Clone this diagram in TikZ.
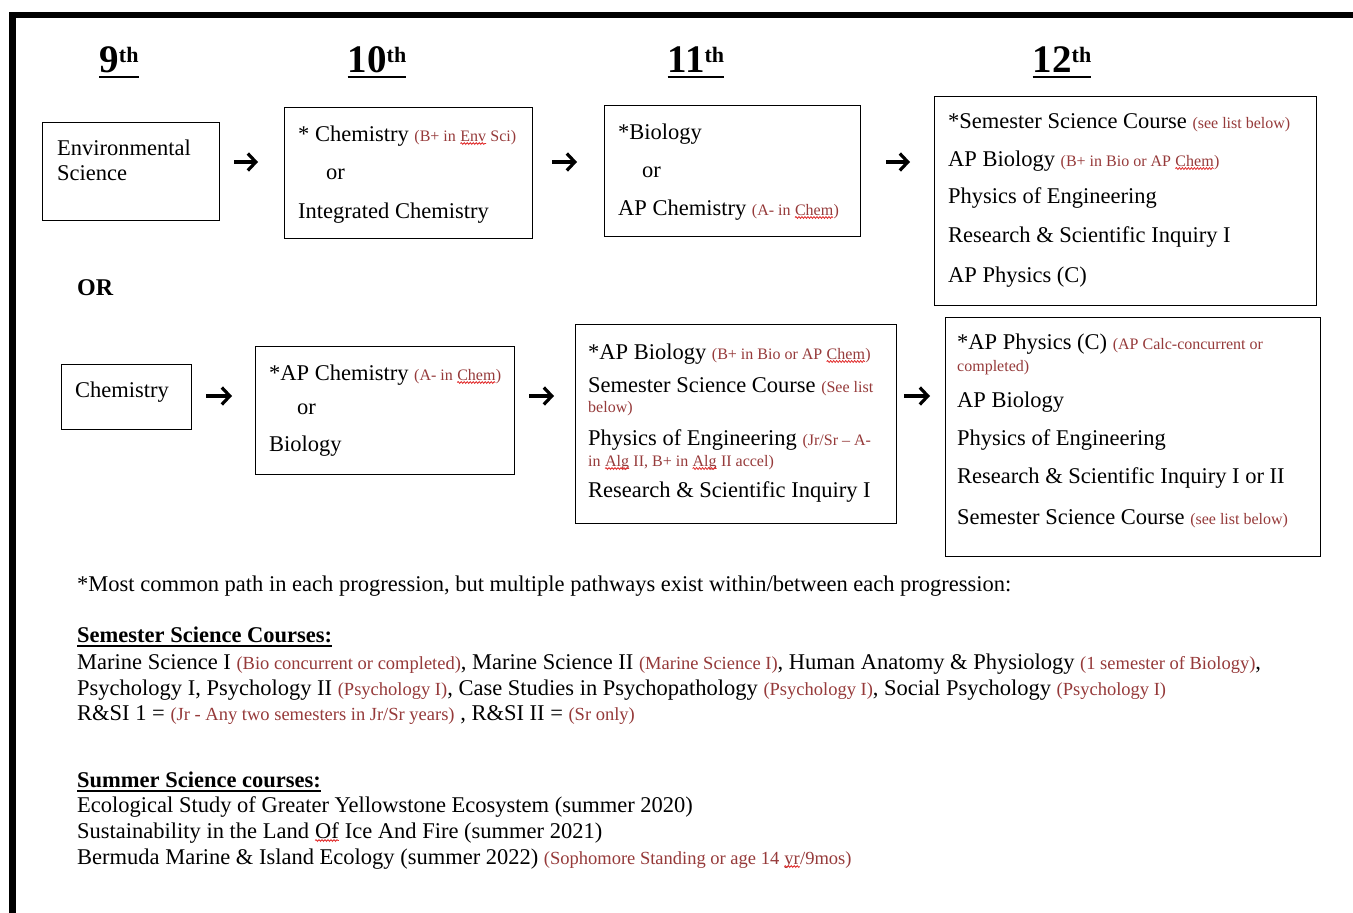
\documentclass[tikz,border=0pt]{standalone}
\usepackage{fontspec}
\setmainfont{Liberation Serif}
\usetikzlibrary{arrows.meta,decorations.pathmorphing}
\definecolor{note}{RGB}{150,58,58}
\definecolor{spell}{RGB}{225,40,40}

% sizes
\newcommand\bx{\fontsize{22.5}{27}\selectfont}
\newcommand\bt{\fontsize{22.5}{27}\selectfont}
\newcommand\nt[1]{{\fontsize{16}{19}\selectfont\color{note}#1}}
\newcommand\bn[1]{{\fontsize{18.5}{22}\selectfont\color{note}#1}}
\newcommand\yrsup{\raisebox{10pt}{\fontsize{22}{26}\selectfont th}}
% word with a red wavy underline
\newcommand\sq[1]{\tikz[baseline=(sqw.base)]{\node[inner sep=0pt,outer sep=0pt,anchor=base west] (sqw) at (0pt,0pt) {#1};
  \draw[spell,line width=0.8pt,decorate,decoration={snake,amplitude=0.9pt,segment length=3pt}]
    ([yshift=-2.5pt]sqw.base west) -- ([yshift=-2.5pt]sqw.base east);}}

\begin{document}
\begin{tikzpicture}[x=1pt,y=-1pt,
  box/.style={draw,line width=1.3pt,inner sep=0pt,anchor=north west},
  txt/.style={anchor=base west,inner sep=0pt,font=\bx},
  low/.style={anchor=base west,inner sep=0pt,font=\bt},
  hd/.style={anchor=base,inner sep=0pt,font=\fontsize{39}{44}\selectfont\bfseries},
  arr/.style={line width=3.2pt,-{Straight Barb[length=8pt,width=17pt]}},
  uline/.style={line width=2.8pt}]
\useasboundingbox (0,0) rectangle (1353,913);
\fill[white] (0,0) rectangle (1353,913);

% frame on top and left
\fill (9,12) rectangle (1353,18);
\fill (9,12) rectangle (16,913);

% year headings
\node[hd] (h9)  at (119,72) {9\yrsup};
\node[hd] (h10) at (377,72) {10\yrsup};
\node[hd] (h11) at (696,72) {11\yrsup};
\node[hd] (h12) at (1062,72) {12\yrsup};
\foreach \h in {h9,h10,h11,h12}
  \draw[uline] ([yshift=-5]\h.base west) -- ([yshift=-5]\h.base east);

% first progression
\node[box,minimum width=177pt,minimum height=98pt] (env) at (42,122) {};
\node[txt] (env1) at (57,155) {Environmental};
\node[txt] (env2) at (57,180) {Science};

\node[box,minimum width=248pt,minimum height=131pt] (chem) at (284,107) {};
\node[txt] (chem1) at (298,141) {* Chemistry \nt{(B+ in \sq{Env} Sci)}};
\node[txt] (chem2) at (326,179) {or};
\node[txt] (chem3) at (298,218) {Integrated Chemistry};

\node[box,minimum width=256pt,minimum height=131pt] (bio) at (604,105) {};
\node[txt] (bio1) at (618,139) {*Biology};
\node[txt] (bio2) at (642,177) {or};
\node[txt] (bio3) at (618,215) {AP Chemistry \nt{(A- in \sq{Chem})}};

\node[box,minimum width=382pt,minimum height=209pt] (sr) at (934,96) {};
\node[txt] (sr1) at (948,128) {*Semester Science Course \nt{(see list below)}};
\node[txt] (sr2) at (948,166) {AP Biology \nt{(B+ in Bio or AP \sq{Chem})}};
\node[txt] (sr3) at (948,203) {Physics of Engineering};
\node[txt] (sr4) at (948,242) {Research \& Scientific Inquiry I};
\node[txt] (sr5) at (948,282) {AP Physics (C)};

\coordinate (r1) at (0,162);
\draw[arr] ([xshift=14]env.east |- r1) -- ([xshift=-26]chem.west |- r1);
\draw[arr] ([xshift=19]chem.east |- r1) -- ([xshift=-27]bio.west |- r1);
\draw[arr] ([xshift=25]bio.east |- r1) -- ([xshift=-24]sr.west |- r1);

\node[anchor=base west,inner sep=0pt,font=\fontsize{24}{28}\selectfont\bfseries] (or) at (77,295) {OR};

% second progression
\node[box,minimum width=130pt,minimum height=65pt] (ch) at (61,364) {};
\node[txt] (ch1) at (75,397) {Chemistry};

\node[box,minimum width=259pt,minimum height=128pt] (apc) at (255,346) {};
\node[txt] (apc1) at (269,380) {*AP Chemistry \nt{(A- in \sq{Chem})}};
\node[txt] (apc2) at (297,414) {or};
\node[txt] (apc3) at (269,451) {Biology};

\node[box,minimum width=321pt,minimum height=199pt] (jr) at (575,324) {};
\node[txt] (jr1) at (588,359) {*AP Biology \nt{(B+ in Bio or AP \sq{Chem})}};
\node[txt] (jr2) at (588,392) {Semester Science Course \nt{(See list}};
\node[txt] (jr3) at (588,412) {\nt{below)}};
\node[txt] (jr4) at (588,445) {Physics of Engineering \nt{(Jr/Sr – A-}};
\node[txt] (jr5) at (588,466) {\nt{in \sq{Alg} II, B+ in \sq{Alg} II accel)}};
\node[txt] (jr6) at (588,497) {Research \& Scientific Inquiry I};

\node[box,minimum width=375pt,minimum height=239pt] (sn) at (945,317) {};
\node[txt] (sn1) at (957,349) {*AP Physics (C) \nt{(AP Calc-concurrent or}};
\node[txt] (sn2) at (957,371) {\nt{completed)}};
\node[txt] (sn3) at (957,407) {AP Biology};
\node[txt] (sn4) at (957,445) {Physics of Engineering};
\node[txt] (sn5) at (957,483) {Research \& Scientific Inquiry I or II};
\node[txt] (sn6) at (957,524) {Semester Science Course \nt{(see list below)}};

\coordinate (r2) at (0,396);
\draw[arr] ([xshift=14]ch.east |- r2) -- ([xshift=-23]apc.west |- r2);
\draw[arr] ([xshift=14]apc.east |- r2) -- ([xshift=-21]jr.west |- r2);
\draw[arr] ([xshift=7]jr.east |- r2) -- ([xshift=-15]sn.west |- r2);

% notes and course lists
\node[low] (n1) at (77,591) {*Most common path in each progression, but multiple pathways exist within/between each progression:};

\node[low,font=\bt\bfseries] (sem) at (77,642) {Semester Science Courses:};
\draw[line width=1.6pt] ([yshift=-4]sem.base west) -- ([yshift=-4]sem.base east);
\node[low] (s1) at (77,669) {Marine Science I \bn{(Bio concurrent or completed)}, Marine Science II \bn{(Marine Science I)}, Human Anatomy \& Physiology \bn{(1 semester of Biology)},};
\node[low] (s2) at (77,695) {Psychology I, Psychology II \bn{(Psychology I)}, Case Studies in Psychopathology \bn{(Psychology I)}, Social Psychology \bn{(Psychology I)}};
\node[low] (s3) at (77,720) {R\&SI 1 = \bn{(Jr - Any two semesters in Jr/Sr years)} , R\&SI II = \bn{(Sr only)}};

\node[low,font=\bt\bfseries] (sum) at (77,787) {Summer Science courses:};
\draw[line width=1.6pt] ([yshift=-4]sum.base west) -- ([yshift=-4]sum.base east);
\node[low] (u1) at (77,812) {Ecological Study of Greater Yellowstone Ecosystem (summer 2020)};
\node[low] (u2) at (77,838) {Sustainability in the Land \sq{Of} Ice And Fire (summer 2021)};
\node[low] (u3) at (77,864) {Bermuda Marine \& Island Ecology (summer 2022) \bn{(Sophomore Standing or age 14 \sq{yr}/9mos)}};
\end{tikzpicture}
\end{document}
